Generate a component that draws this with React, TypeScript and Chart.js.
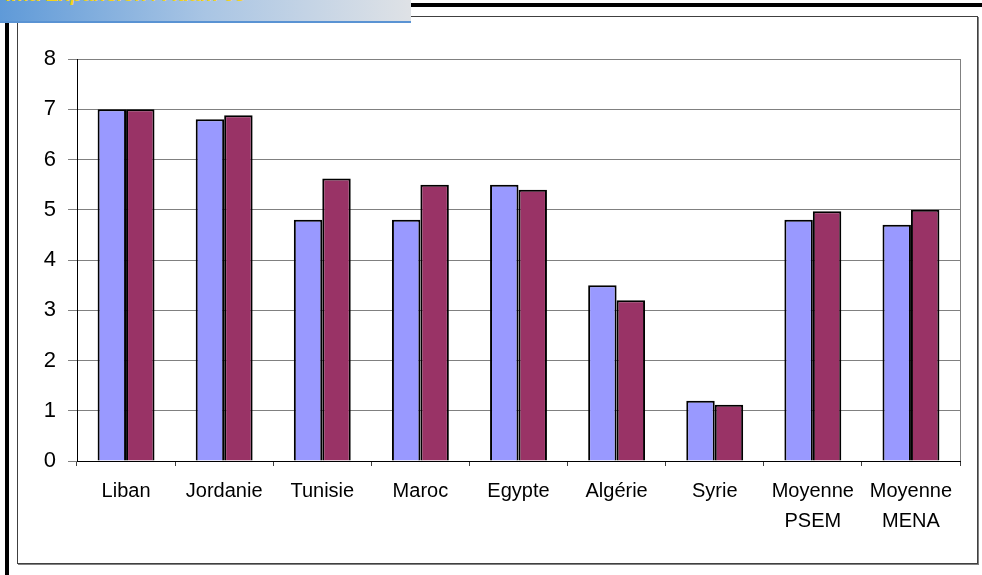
import React, { useEffect, useRef } from "react";
import { Chart, registerables } from "chart.js";
Chart.register(...registerables);

const categories: string[][] = [
  ["Liban"],
  ["Jordanie"],
  ["Tunisie"],
  ["Maroc"],
  ["Egypte"],
  ["Algérie"],
  ["Syrie"],
  ["Moyenne", "PSEM"],
  ["Moyenne", "MENA"],
];
const seriesA = [7.0, 6.8, 4.8, 4.8, 5.5, 3.5, 1.2, 4.8, 4.7];
const seriesB = [7.0, 6.88, 5.62, 5.5, 5.4, 3.2, 1.12, 4.97, 5.0];
const yMin = 0;
const yMax = 8;
const yStep = 1;

const FONT = "'Liberation Sans', Arial, sans-serif";

const plotBorder = {
  id: "plotBorder",
  beforeDatasetsDraw(chart: any) {
    const { ctx, chartArea } = chart;
    const x = Math.round(chartArea.right) + 0.5;
    ctx.save();
    ctx.strokeStyle = "#808080";
    ctx.lineWidth = 1;
    ctx.beginPath();
    ctx.moveTo(x, chartArea.top);
    ctx.lineTo(x, chartArea.bottom);
    ctx.stroke();
    ctx.restore();
  },
};

export default function App() {
  const ref = useRef<HTMLCanvasElement>(null);
  useEffect(() => {
    if (!ref.current) return;
    const chart = new Chart(ref.current, {
      type: "bar",
      data: {
        labels: categories,
        datasets: [
          {
            data: seriesA,
            backgroundColor: "#9999FF",
            borderColor: "#000000",
            borderWidth: 2,
          },
          {
            data: seriesB,
            backgroundColor: "#993366",
            borderColor: "#000000",
            borderWidth: 2,
          },
        ],
      },
      options: {
        responsive: false,
        animation: false,
        datasets: {
          bar: { barPercentage: 1, categoryPercentage: 0.58 },
        },
        layout: { padding: { top: 42, right: 17, bottom: 0, left: 0 } },
        plugins: {
          legend: { display: false },
          tooltip: { enabled: false },
          title: { display: false },
        },
        scales: {
          x: {
            afterFit(scale: any) {
              scale.height = 102;
            },
            grid: {
              offset: true,
              drawOnChartArea: false,
              drawTicks: true,
              tickLength: 5,
              color: "#404040",
            },
            border: { color: "#000000", width: 1 },
            ticks: {
              color: "#000000",
              padding: 10,
              maxRotation: 0,
              autoSkip: false,
              font: { family: FONT, size: 20, lineHeight: 1.5 },
            },
          },
          y: {
            min: yMin,
            max: yMax,
            afterFit(scale: any) {
              scale.width = 59;
            },
            grid: {
              color: "#808080",
              lineWidth: 1,
              tickLength: 9,
            },
            border: { color: "#000000", width: 1 },
            ticks: {
              stepSize: yStep,
              color: "#000000",
              padding: 12,
              font: { family: FONT, size: 22 },
            },
          },
        },
      },
      plugins: [plotBorder],
    });
    return () => chart.destroy();
  }, []);

  return (
    <div
      style={{
        position: "absolute",
        left: 0,
        top: 0,
        width: 982,
        height: 575,
        overflow: "hidden",
        background: "#ffffff",
      }}
    >
      {/* chart frame */}
      <div
        style={{
          position: "absolute",
          left: 17,
          top: 16,
          width: 959,
          height: 546,
          border: "1px solid #404040",
          boxShadow: "1px 1px 0 #808080",
        }}
      >
        <canvas ref={ref} width={959} height={546} style={{ display: "block" }} />
      </div>
      {/* thick top rule */}
      <div
        style={{
          position: "absolute",
          left: 410,
          top: 3,
          width: 572,
          height: 4,
          background: "#000000",
        }}
      />
      {/* thick left rule */}
      <div
        style={{
          position: "absolute",
          left: 5,
          top: 22,
          width: 4,
          height: 553,
          background: "#000000",
        }}
      />
      {/* banner */}
      <div
        style={{
          position: "absolute",
          left: 0,
          top: 0,
          width: 411,
          height: 21,
          overflow: "hidden",
          background: "linear-gradient(to right, #5f9ad8, #a9c5e4 50%, #dfe2e6)",
          borderBottom: "2px solid #5a93d3",
        }}
      >
        <div
          style={{
            position: "absolute",
            left: 6,
            top: -16,
            whiteSpace: "nowrap",
            fontFamily: FONT,
            fontWeight: "bold",
            fontStyle: "italic",
            fontSize: 20,
            color: "#f5d21e",
            lineHeight: "20px",
          }}
        >
          ima Expansion / Adam 05
        </div>
      </div>
    </div>
  );
}
